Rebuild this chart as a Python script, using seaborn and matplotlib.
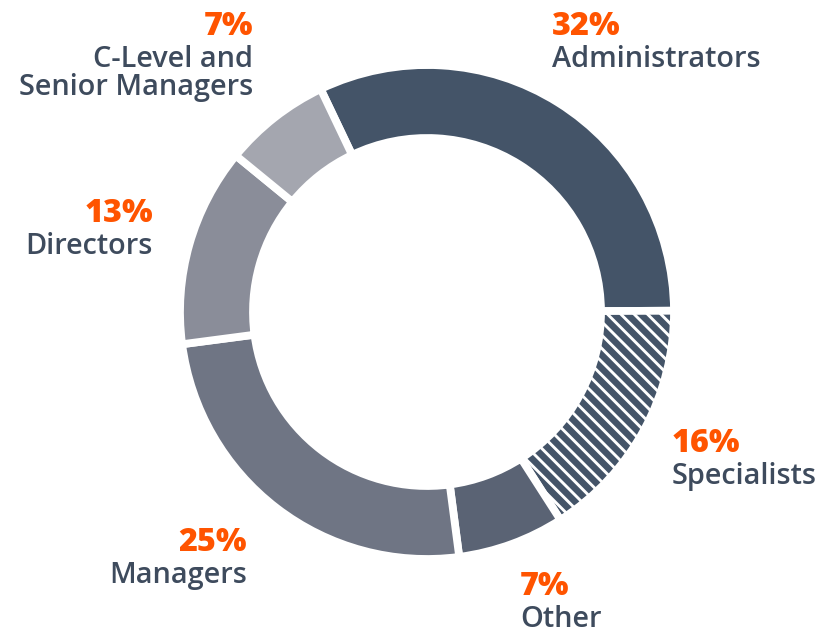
import matplotlib
matplotlib.use("Agg")
import matplotlib.pyplot as plt
import seaborn as sns

# Daten: Anteile je Rolle (in Prozent, Uhrzeigersinn ab oben links)
roles = ["Administrators", "Specialists", "Other", "Managers", "Directors",
         "C-Level and\nSenior Managers"]
shares = [32, 16, 7, 25, 13, 7]
pct_labels = ["32%", "16%", "7%", "25%", "13%", "7%"]

# Farben und Muster
colors = ["#445468", "#445468", "#5a6374", "#6f7584", "#8a8d99", "#a4a6af"]
hatches = [None, "\\\\", None, None, None, None]
orange = "#ff5400"
text_col = "#3e4b5d"

# Layout in Pixeln (x, y-Grundlinie Prozent, Ausrichtung)
W, H = 827, 633
label_pos = [
    (552, 35, "left"),
    (672, 452, "left"),
    (520, 595, "left"),
    (247, 551, "right"),
    (153, 222, "right"),
    (253, 35, "right"),
]

sns.set_theme(style="white")
plt.rcParams["font.family"] = ["Open Sans", "DejaVu Sans"]
plt.rcParams["hatch.linewidth"] = 2.6

dpi = 80
fig = plt.figure(figsize=(W / dpi, H / dpi), dpi=dpi)
ax = fig.add_axes([0, 0, 1, 1])

wedges, _ = ax.pie(
    shares,
    colors=colors,
    startangle=115.5,
    counterclock=False,
    center=(427, H - 312),
    radius=247,
    wedgeprops=dict(width=73, edgecolor="white", linewidth=7),
    frame=True,
)
ax.set_xlim(0, W)
ax.set_ylim(0, H)
ax.set_aspect("equal")
ax.axis("off")
for w, h in zip(wedges, hatches):
    if h:
        w.set_hatch(h)

for pct, role, (x, y, ha) in zip(pct_labels, roles, label_pos):
    ax.text(x, H - y, pct, ha=ha, va="baseline", color=orange,
            fontsize=29, fontweight="heavy")
    for i, line in enumerate(role.split("\n")):
        ax.text(x, H - y - 32 - 28 * i, line, ha=ha, va="baseline",
                color=text_col, fontsize=26, fontweight="semibold")

fig.savefig("out.png", dpi=dpi)
